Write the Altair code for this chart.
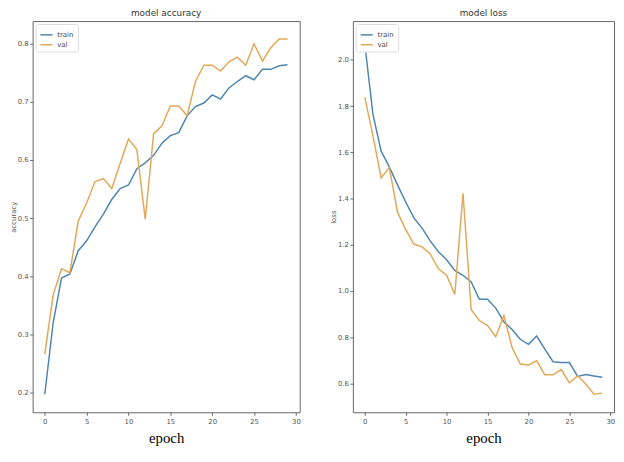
import altair as alt
import pandas as pd

epochs = list(range(30))
acc_train = [0.197, 0.32, 0.397, 0.404, 0.444, 0.461, 0.485, 0.507, 0.532, 0.551,
             0.557, 0.585, 0.595, 0.608, 0.629, 0.642, 0.647, 0.676, 0.692, 0.698,
             0.712, 0.705, 0.724, 0.735, 0.745, 0.738, 0.756, 0.756, 0.762, 0.764]
acc_val = [0.266, 0.368, 0.413, 0.406, 0.495, 0.526, 0.563, 0.568, 0.551, 0.594,
           0.636, 0.618, 0.498, 0.645, 0.659, 0.693, 0.693, 0.676, 0.735, 0.763,
           0.763, 0.753, 0.769, 0.777, 0.763, 0.800, 0.770, 0.793, 0.808, 0.808]
loss_train = [2.07, 1.764, 1.605, 1.537, 1.459, 1.385, 1.316, 1.272, 1.217, 1.170,
              1.135, 1.089, 1.068, 1.039, 0.964, 0.964, 0.926, 0.866, 0.833, 0.791,
              0.769, 0.805, 0.748, 0.694, 0.690, 0.690, 0.630, 0.638, 0.632, 0.627]
loss_val = [1.839, 1.67, 1.490, 1.534, 1.341, 1.265, 1.203, 1.191, 1.160, 1.096,
            1.068, 0.985, 1.423, 0.919, 0.872, 0.850, 0.802, 0.894, 0.755, 0.684,
            0.680, 0.698, 0.637, 0.637, 0.660, 0.602, 0.633, 0.597, 0.553, 0.558]
series = ["train", "val"]
colors = ["#4f86b0", "#e3a857"]
x_ticks = [0, 5, 10, 15, 20, 25, 30]
acc_ticks = [0.2, 0.3, 0.4, 0.5, 0.6, 0.7, 0.8]
loss_ticks = [0.6, 0.8, 1.0, 1.2, 1.4, 1.6, 1.8, 2.0]


def long_df(train, val):
    rows = []
    for e, t in zip(epochs, train):
        rows.append({"epoch": e, "value": t, "series": "train"})
    for e, v in zip(epochs, val):
        rows.append({"epoch": e, "value": v, "series": "val"})
    return pd.DataFrame(rows)


def panel(df, title, ytitle, ydomain, yticks, width):
    return alt.Chart(df).mark_line(strokeWidth=1.5, clip=True).encode(
        x=alt.X("epoch:Q",
                scale=alt.Scale(domain=[-1.45, 30.45], nice=False, zero=False),
                axis=alt.Axis(values=x_ticks, format="d", title="epoch", grid=False,
                              domain=False, tickSize=3, tickColor="#666",
                              labelFont="DejaVu Sans", labelFontSize=7, labelColor="#555",
                              labelPadding=2, titleFont="Liberation Serif",
                              titleFontSize=15, titleFontWeight="normal",
                              titleColor="#000", titlePadding=7)),
        y=alt.Y("value:Q",
                scale=alt.Scale(domain=ydomain, nice=False, zero=False),
                axis=alt.Axis(values=yticks, format=".1f", title=ytitle, grid=False,
                              domain=False, tickSize=3, tickColor="#666",
                              labelFont="DejaVu Sans", labelFontSize=7, labelColor="#555",
                              labelPadding=1.5, titleFont="DejaVu Sans", titleFontSize=7,
                              titleFontWeight="normal", titleColor="#555", titlePadding=1)),
        color=alt.Color("series:N",
                        scale=alt.Scale(domain=series, range=colors),
                        legend=alt.Legend(title=None, orient="top-left", offset=3,
                                          padding=4, strokeColor="#ddd", fillColor="#fff",
                                          cornerRadius=2, symbolType="stroke",
                                          symbolSize=150, symbolStrokeWidth=1.5,
                                          labelFont="DejaVu Sans", labelFontSize=7,
                                          labelColor="#444", rowPadding=0)),
    ).properties(
        width=width, height=397,
        title=alt.TitleParams(title, font="DejaVu Sans", fontSize=9, fontWeight="normal",
                              color="#333", offset=3),
    )


left = panel(long_df(acc_train, acc_val), "model accuracy", "accuracy",
             [0.166, 0.839], acc_ticks, 271)
right = panel(long_df(loss_train, loss_val), "model loss", "loss",
              [0.475, 2.168], loss_ticks, 265)

chart = alt.hconcat(left, right, spacing=54, bounds="flush").resolve_scale(
    color="independent").resolve_legend(color="independent").configure_view(
    stroke="#666", strokeWidth=1).properties(
    padding={"left": 0, "top": -3, "right": 0, "bottom": 0})

chart.save("out.html", embed_options={"renderer": "svg", "actions": False})
